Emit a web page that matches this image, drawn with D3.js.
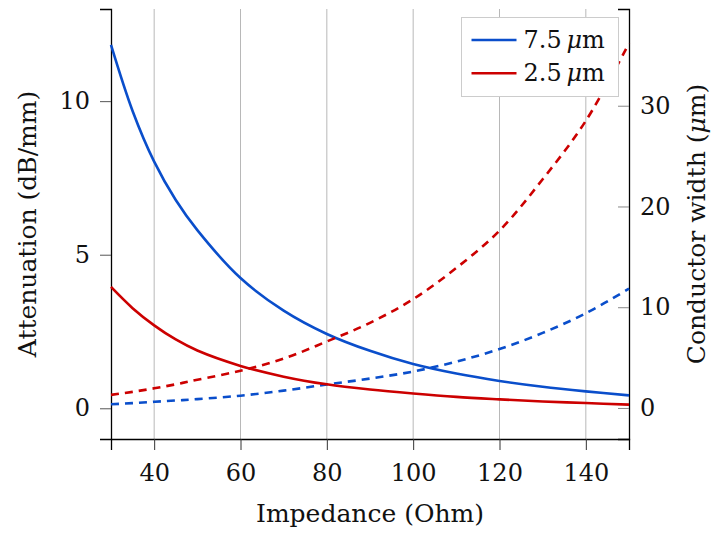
<!DOCTYPE html>
<html>
<head>
<meta charset="utf-8">
<script src="https://cdn.jsdelivr.net/npm/d3@7"></script>
<style>
  body { margin: 0; background: #fff; }
  svg { display: block; font-family: 'DejaVu Serif', serif; }
</style>
</head>
<body>
<script>
// impedance samples (Ohm)
const impedance = [30, 35, 40, 45, 50, 60, 70, 80, 90, 100, 110, 120, 130, 140, 150];

// attenuation (dB/mm), left axis
const atten75 = [11.83, 9.68, 8.03, 6.78, 5.8, 4.24, 3.18, 2.42, 1.87, 1.44, 1.13, 0.89, 0.70, 0.55, 0.42];
const atten25 = [3.95, 3.26, 2.7, 2.24, 1.88, 1.38, 1.03, 0.78, 0.61, 0.48, 0.37, 0.29, 0.22, 0.17, 0.12];

// conductor width (um), right axis
const width75 = [0.37, 0.48, 0.61, 0.74, 0.88, 1.22, 1.72, 2.33, 2.92, 3.62, 4.6, 5.85, 7.45, 9.4, 11.84];
const width25 = [1.3, 1.6, 1.95, 2.35, 2.8, 3.7, 4.9, 6.6, 8.45, 10.8, 13.9, 17.6, 22.7, 28.5, 36.2];

const xTicks = [40, 60, 80, 100, 120, 140];
const leftTicks = [0, 5, 10];
const rightTicks = [0, 10, 20, 30];

const series = [
  { name: '7.5', atten: atten75, width: width75, color: '#0a4ecb' },
  { name: '2.5', atten: atten25, width: width25, color: '#cc0000' }
];

const W = 715, H = 533;
const margin = { top: 9, right: 86, bottom: 94, left: 111 };

const svg = d3.select('body').append('svg')
  .attr('width', W)
  .attr('height', H);

const x = d3.scaleLinear().domain([30, 150]).range([margin.left, W - margin.right]);
const yL = d3.scaleLinear().domain([-1.0, 13.0]).range([H - margin.bottom, margin.top]);
const yR = d3.scaleLinear().domain([-3.08, 39.6]).range([H - margin.bottom, margin.top]);

// vertical grid
svg.append('g')
  .selectAll('line')
  .data(xTicks)
  .join('line')
  .attr('x1', d => x(d)).attr('x2', d => x(d))
  .attr('y1', margin.top).attr('y2', H - margin.bottom)
  .attr('stroke', '#b8b8b8')
  .attr('stroke-width', 1);

// axes
const tickFs = '24px';
const titleFs = '25px';

function styleAxis(g) {
  g.attr('font-family', null).attr('font-size', null);
  g.select('.domain').attr('stroke', '#000').attr('stroke-width', 1.3);
  g.selectAll('text').style('font-size', tickFs).attr('fill', '#111');
}

const gx = svg.append('g')
  .attr('transform', `translate(0,${H - margin.bottom})`)
  .call(d3.axisBottom(x).tickValues(xTicks).tickSize(11).tickPadding(14));
styleAxis(gx);
gx.selectAll('.tick line').attr('stroke', '#333');

const gl = svg.append('g')
  .attr('transform', `translate(${margin.left},0)`)
  .call(d3.axisLeft(yL).tickValues(leftTicks).tickSize(11).tickPadding(10));
styleAxis(gl);
gl.selectAll('.tick line').attr('stroke', '#555');

const gr = svg.append('g')
  .attr('transform', `translate(${W - margin.right},0)`)
  .call(d3.axisRight(yR).tickValues(rightTicks).tickSize(-11).tickPadding(10));
styleAxis(gr);
gr.selectAll('.tick line').attr('stroke', '#888');
gr.selectAll('text').attr('x', 11);

// lines
const lineL = d3.line().x((d, i) => x(impedance[i])).y(d => yL(d)).curve(d3.curveCatmullRom);
const lineR = d3.line().x((d, i) => x(impedance[i])).y(d => yR(d)).curve(d3.curveCatmullRom);

series.forEach(s => {
  svg.append('path')
    .attr('d', lineR(s.width))
    .attr('fill', 'none')
    .attr('stroke', s.color)
    .attr('stroke-width', 2.6)
    .attr('stroke-dasharray', '8,6');
  svg.append('path')
    .attr('d', lineL(s.atten))
    .attr('fill', 'none')
    .attr('stroke', s.color)
    .attr('stroke-width', 2.6);
});

// axis titles
svg.append('text')
  .attr('x', x(90))
  .attr('y', 522)
  .attr('text-anchor', 'middle')
  .style('font-size', titleFs)
  .attr('fill', '#111')
  .text('Impedance (Ohm)');

svg.append('text')
  .attr('transform', `translate(36,${(margin.top + H - margin.bottom) / 2}) rotate(-90)`)
  .attr('text-anchor', 'middle')
  .style('font-size', titleFs)
  .attr('fill', '#111')
  .text('Attenuation (dB/mm)');

const rt = svg.append('text')
  .attr('transform', `translate(705,${(margin.top + H - margin.bottom) / 2}) rotate(-90)`)
  .attr('text-anchor', 'middle')
  .style('font-size', titleFs)
  .attr('fill', '#111');
rt.append('tspan').text('Conductor width (');
rt.append('tspan').attr('font-style', 'italic').text('μ');
rt.append('tspan').text('m)');

// legend
const leg = svg.append('g').attr('transform', 'translate(461.5,17.5)');
leg.append('rect')
  .attr('width', 157).attr('height', 79)
  .attr('fill', '#fff')
  .attr('stroke', '#cccccc');
series.forEach((s, i) => {
  const ly = 22.5 + i * 33.3;
  leg.append('line')
    .attr('x1', 10).attr('x2', 55)
    .attr('y1', ly).attr('y2', ly)
    .attr('stroke', s.color)
    .attr('stroke-width', 2.6);
  const t = leg.append('text')
    .attr('x', 62).attr('y', ly + 7.5)
    .style('font-size', '24px')
    .attr('fill', '#111');
  t.append('tspan').text(s.name + '\u2009');
  t.append('tspan').attr('font-style', 'italic').text('μ');
  t.append('tspan').text('m');
});
</script>
</body>
</html>
